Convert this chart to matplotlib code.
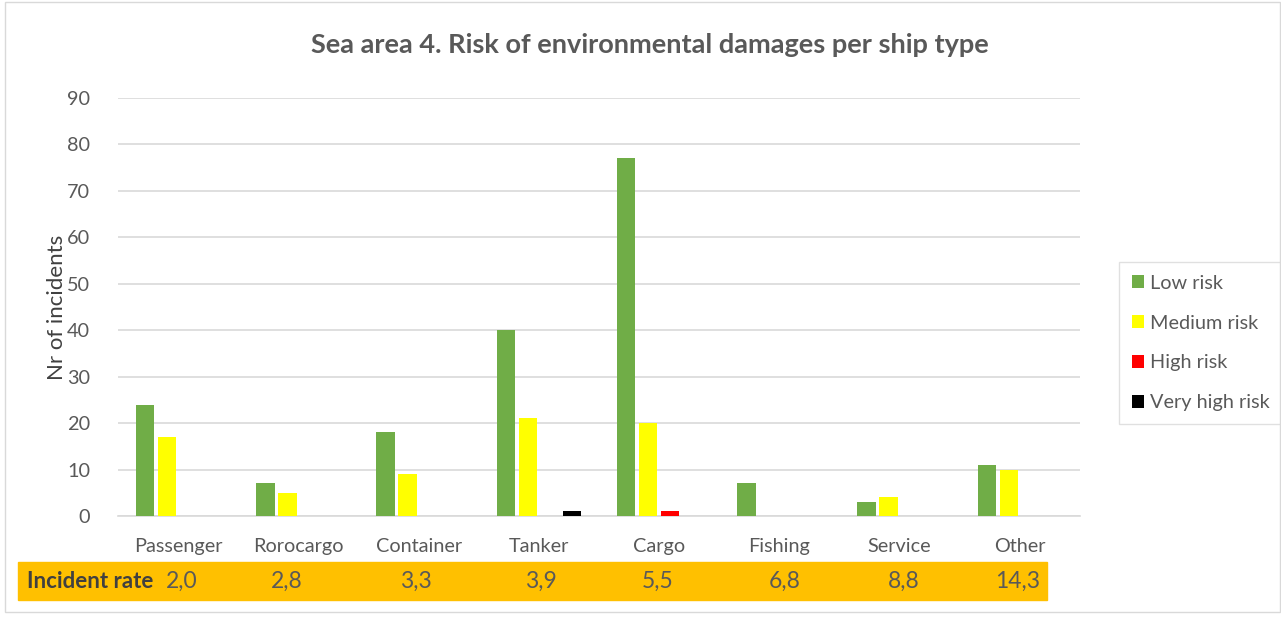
import numpy as np
import matplotlib.pyplot as plt
from matplotlib.patches import Rectangle

ship_types = ['Passenger', 'Rorocargo', 'Container', 'Tanker', 'Cargo', 'Fishing', 'Service', 'Other']
low_risk = [24, 7, 18, 40, 77, 7, 3, 11]
medium_risk = [17, 5, 9, 21, 20, 0, 4, 10]
high_risk = [0, 0, 0, 0, 1, 0, 0, 0]
very_high_risk = [0, 0, 0, 1, 0, 0, 0, 0]
incident_rate = ['2,0', '2,8', '3,3', '3,9', '5,5', '6,8', '8,8', '14,3']
rate_xpos = [182, 287, 416, 541, 658, 785, 904, 1018]  # pixel centres of the table cells

plt.rcParams['font.family'] = ['Lato', 'DejaVu Sans']
txt = '#595959'

W, H = 1281, 621
fig = plt.figure(figsize=(W / 100, H / 100), dpi=100)
ax = fig.add_axes([118 / W, 1 - 516 / H, (1080 - 118) / W, (516 - 98) / H])

x = np.arange(len(ship_types))
bw = 0.155
step = 0.183
series = [(low_risk, '#70AD47', 'Low risk'),
          (medium_risk, '#FFFF00', 'Medium risk'),
          (high_risk, '#FF0000', 'High risk'),
          (very_high_risk, '#000000', 'Very high risk')]
for i, (vals, col, lab) in enumerate(series):
    ax.bar(x + (i - 1.5) * step, vals, bw, color=col, label=lab, zorder=3)

ax.set_xlim(-0.5, len(ship_types) - 0.5)
ax.set_ylim(0, 90)
ax.set_yticks(range(0, 91, 10))
ax.grid(axis='y', color='#D9D9D9', lw=1.2, zorder=0)
ax.set_xticks(x)
ax.set_xticklabels(ship_types)
ax.tick_params(axis='both', length=0, labelsize=14.3, colors=txt)
ax.tick_params(axis='x', pad=16)
ax.tick_params(axis='y', pad=20)
for s in ['top', 'right', 'left']:
    ax.spines[s].set_visible(False)
ax.spines['bottom'].set_color('#D9D9D9')
ax.spines['bottom'].set_linewidth(1.2)
ax.set_ylabel('Nr of incidents', fontsize=16, color='#404040', labelpad=0)

fig.text(650 / W, 1 - 45 / H, 'Sea area 4. Risk of environmental damages per ship type',
         ha='center', va='center', fontsize=19.5, fontweight='bold', color=txt)

leg = ax.legend(loc='center left', bbox_to_anchor=(1119 / W, 1 - 343 / H),
                bbox_transform=fig.transFigure, frameon=True, fancybox=False,
                fontsize=14.3, handlelength=0.6, handleheight=0.6, handletextpad=0.3,
                labelspacing=1.15, borderpad=0.65, borderaxespad=0, labelcolor=txt)
leg.get_frame().set_edgecolor('#D9D9D9')

# orange incident rate band
fig.patches.append(Rectangle((18 / W, 1 - 600 / H), (1047 - 18) / W, 38 / H,
                             transform=fig.transFigure, color='#FFC000', zorder=0))
fig.text(27 / W, 1 - 581 / H, 'Incident rate', ha='left', va='center',
         fontsize=16, fontweight='bold', color='#404040')
for r, px in zip(incident_rate, rate_xpos):
    fig.text(px / W, 1 - 581 / H, r, ha='center', va='center', fontsize=16.5, color=txt)

# chart frame
fig.patches.append(Rectangle((5 / W, 1 - 612 / H), (W - 6) / W, 610 / H, transform=fig.transFigure,
                             fill=False, edgecolor='#D9D9D9', lw=1))

fig.savefig('out.png', dpi=100)
